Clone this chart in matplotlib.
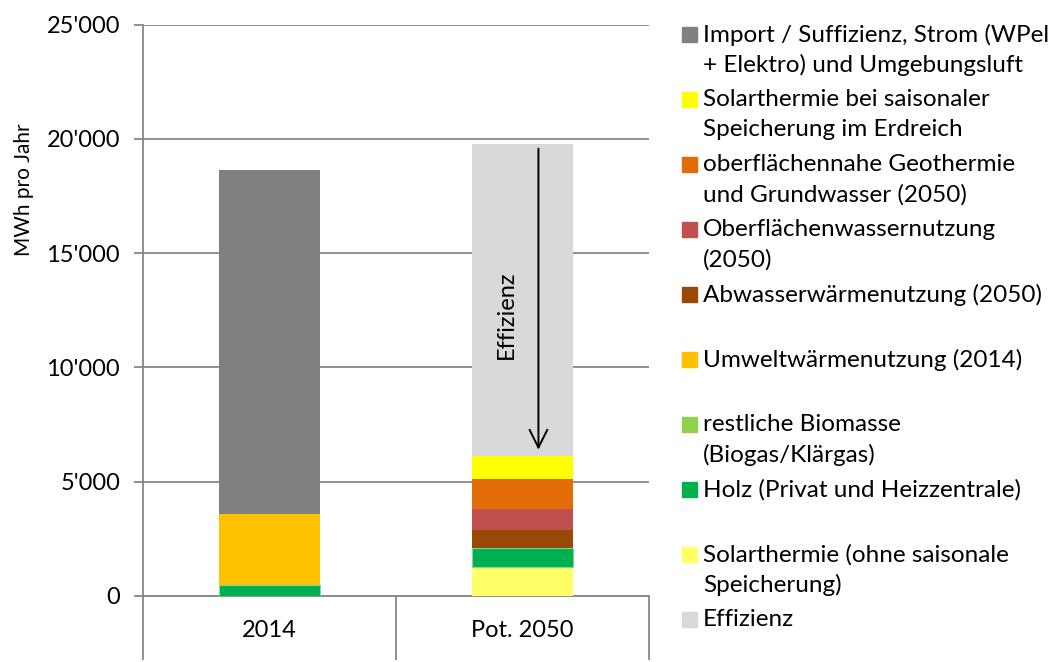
import matplotlib.pyplot as plt
from matplotlib.patches import Rectangle

plt.rcParams['font.family'] = ['Lato', 'DejaVu Sans']

categories = ['2014', 'Pot. 2050']

# series in stacking order (bottom to top), MWh pro Jahr
solar_ohne = [0, 1280]
holz = [480, 810]
biomasse = [0, 0]
umwelt = [3110, 0]
abwasser = [0, 800]
oberflaeche = [0, 920]
geothermie = [0, 1310]
solar_sais = [0, 1020]
import_strom = [15050, 0]
effizienz = [0, 13640]

stack = [
    (solar_ohne, '#FFFF66'),
    (holz, '#00B050'),
    (biomasse, '#92D050'),
    (umwelt, '#FFC000'),
    (abwasser, '#984807'),
    (oberflaeche, '#C0504D'),
    (geothermie, '#E36C09'),
    (solar_sais, '#FFFF00'),
    (import_strom, '#808080'),
    (effizienz, '#D9D9D9'),
]

legend_entries = [
    (['Import / Suffizienz, Strom (WPel', '+ Elektro) und Umgebungsluft'], '#808080'),
    (['Solarthermie bei saisonaler', 'Speicherung im Erdreich'], '#FFFF00'),
    (['oberflächennahe Geothermie', 'und Grundwasser (2050)'], '#E36C09'),
    (['Oberflächenwassernutzung', '(2050)'], '#C0504D'),
    (['Abwasserwärmenutzung (2050)'], '#984807'),
    (['Umweltwärmenutzung (2014)'], '#FFC000'),
    (['restliche Biomasse', '(Biogas/Klärgas)'], '#92D050'),
    (['Holz (Privat und Heizzentrale)'], '#00B050'),
    (['Solarthermie (ohne saisonale', 'Speicherung)'], '#FFFF66'),
    (['Effizienz'], '#D9D9D9'),
]

W, H = 1064, 662
fig = plt.figure(figsize=(W / 100, H / 100), dpi=100)
ax = fig.add_axes([143 / W, 1 - 596 / H, (649 - 143) / W, (596 - 24.7) / H])

grid_c = '#868686'
fs = 17

x = list(range(len(categories)))
bottom = [0] * len(categories)
for vals, col in stack:
    ec = '#7FD89A' if col == '#00B050' else 'none'
    ax.bar(x, vals, width=0.4, bottom=bottom, color=col, edgecolor=ec,
           linewidth=0.8, zorder=3)
    bottom = [b + v for b, v in zip(bottom, vals)]

ax.set_xlim(-0.5, 1.5)
ax.set_ylim(0, 25000)
ax.set_yticks(range(0, 25001, 5000))
ax.set_yticklabels([f"{v // 1000}'000" if v else '0' for v in range(0, 25001, 5000)])
ax.yaxis.grid(True, color=grid_c, linewidth=1.3, zorder=0)
ax.tick_params(axis='y', length=6.5, width=1.3, color=grid_c, labelsize=fs, pad=10)

ax.set_xticks([-0.5, 0.5, 1.5])
ax.set_xticklabels([])
ax.set_xticks(x, minor=True)
ax.set_xticklabels(categories, minor=True)
ax.tick_params(axis='x', which='major', length=46, width=1.3, color=grid_c)
ax.tick_params(axis='x', which='minor', length=0, labelsize=fs, pad=17)

for s in ['top', 'right']:
    ax.spines[s].set_visible(False)
ax.spines['left'].set_color(grid_c)
ax.spines['left'].set_linewidth(1.3)
ax.spines['bottom'].set_color(grid_c)
ax.spines['bottom'].set_linewidth(1.3)

# arrow and label for Effizienz
top_2050 = bottom[1]
base_eff = top_2050 - effizienz[1]
ax.annotate('', xy=(1.063, base_eff + 140), xytext=(1.063, top_2050 - 80),
            arrowprops=dict(arrowstyle='->', mutation_scale=32, lw=1.4, color='black'),
            zorder=5)
ax.text(0.937, 12300, 'Effizienz', rotation=90, ha='center', va='center',
        fontsize=fs, zorder=5)

fig.text(24 / W, 1 - 190 / H, 'MWh pro Jahr', rotation=90, ha='center', va='center',
         fontsize=15)

# legend drawn by hand to keep Excel's spacing
for i, (lines, col) in enumerate(legend_entries):
    yc = 34.5 + 65 * i
    fig.patches.append(Rectangle((682 / W, 1 - (yc + 7.5) / H), 15 / W, 15 / H,
                                 transform=fig.transFigure, color=col))
    for j, ln in enumerate(lines):
        fig.text(703 / W, 1 - (yc + 30.5 * j) / H, ln, ha='left', va='center',
                 fontsize=17.5)

fig.savefig('out.png', dpi=100)
